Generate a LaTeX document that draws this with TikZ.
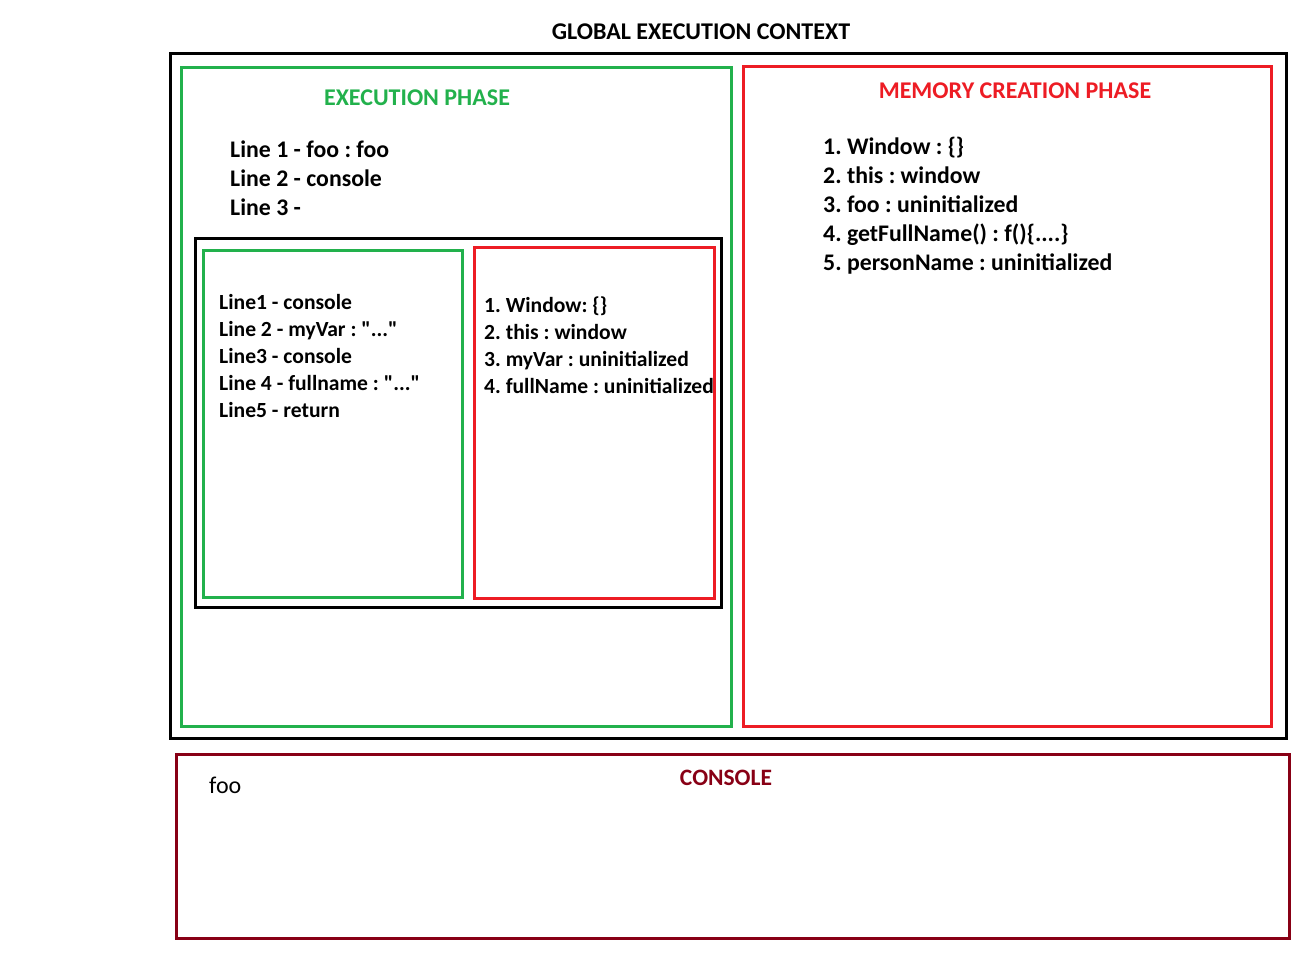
\documentclass[tikz,border=0pt]{standalone}
\usepackage{fontspec}
\setmainfont{Carlito}
\newfontfamily\calibri{Carlito}
\definecolor{pgreen}{HTML}{22B14C}
\definecolor{pred}{HTML}{ED1C24}
\definecolor{pdred}{HTML}{880015}
\begin{document}
\frenchspacing
\begin{tikzpicture}[x=1pt,y=-1pt,
  box/.style={line width=3pt},
  big/.style={font=\calibri\fontsize{23.8}{27}\selectfont\bfseries, inner sep=0pt, anchor=mid west},
  small/.style={font=\calibri\fontsize{21.6}{25}\selectfont\bfseries, inner sep=0pt, anchor=mid west},
  ttl/.style={font=\calibri\fontsize{24}{28}\selectfont\bfseries, inner sep=0pt, anchor=mid}]
\useasboundingbox (0,0) rectangle (1312,957);
% boxes
\draw[box, black] (170,54) rectangle (1286,738);
\draw[box, pgreen] (181,68) rectangle (731,726);
\draw[box, pred] (743,67) rectangle (1271,726);
\draw[box, black] (195,239) rectangle (721,607);
\draw[box, pgreen] (203,251) rectangle (462,597);
\draw[box, pred] (474,248) rectangle (714,598);
\draw[box, pdred] (176,754) rectangle (1289,938);
% titles
\node[ttl] (gec) at (701,37) {GLOBAL EXECUTION CONTEXT};
\node[ttl, text=pgreen] (ep) at (417,103) {EXECUTION PHASE};
\node[ttl, text=pred] (mcp) at (1015,96) {MEMORY CREATION PHASE};
\node[ttl, text=pdred, font=\calibri\fontsize{23.5}{27}\selectfont\bfseries] (con) at (726,783) {CONSOLE};
% execution lines
\node[big] (e1) at (230,155) {Line 1 - foo : foo};
\node[big] (e2) at (230,184) {Line 2 - console};
\node[big] (e3) at (230,213) {Line 3 -};
% memory lines
\node[big] (m1) at (823,152) {1. Window : \{\}};
\node[big] (m2) at (823,181) {2. this : window};
\node[big] (m3) at (823,210) {3. foo : uninitialized};
\node[big] (m4) at (823,239) {4. getFullName() : f()\{....\}};
\node[big] (m5) at (823,268) {5. personName : uninitialized};
% inner execution
\node[small] (i1) at (219,307) {Line1 - console};
\node[small] (i2) at (219,334) {Line 2 - myVar : "..."};
\node[small] (i3) at (219,361) {Line3 - console};
\node[small] (i4) at (219,388) {Line 4 - fullname : "..."};
\node[small] (i5) at (219,415) {Line5 - return};
% inner memory
\node[small] (j1) at (484,310) {1. Window: \{\}};
\node[small] (j2) at (484,337) {2. this : window};
\node[small] (j3) at (484,364) {3. myVar : uninitialized};
\node[small] (j4) at (484,391) {4. fullName : uninitialized};
% console
\node[big, font=\calibri\fontsize{24}{28}\selectfont] (foo) at (209,791) {foo};
\end{tikzpicture}
\end{document}
